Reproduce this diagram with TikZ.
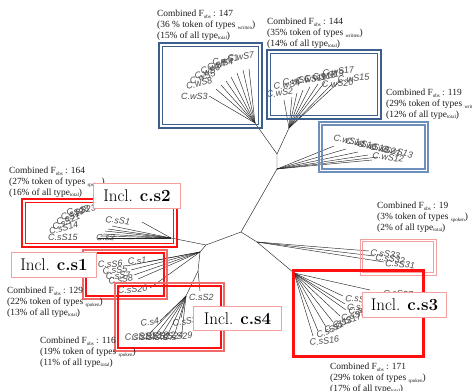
\documentclass[tikz,border=0pt]{standalone}
\usepackage{fontspec}
\newfontfamily\serifT{Liberation Serif}
\newfontfamily\sansA{Liberation Sans}
\definecolor{bluedark}{HTML}{3E5E8E}
\definecolor{bluelight}{HTML}{6E8EBE}
\definecolor{boxred}{HTML}{FF1010}
\definecolor{lightred}{HTML}{F06A6A}
\definecolor{pinkred}{HTML}{F4A0A0}
\definecolor{leafgray}{HTML}{4A4A4A}
\newcommand\subt[1]{\raisebox{-1.6pt}{\fontsize{5}{5}\selectfont #1}}
\begin{document}
\begin{tikzpicture}[x=1pt,y=-1pt,
  branch/.style={draw=black!85,line width=0.45pt},
  leaf/.style={font=\sansA\itshape\fontsize{9}{9}\selectfont,text=leafgray,inner sep=0pt,anchor=base west},
  annot/.style={font=\serifT\fontsize{9.4}{10.7}\selectfont,align=left,anchor=north west,inner sep=0pt,text=black!90},
  incl/.style={draw=pinkred,line width=1pt,fill=white,inner sep=0pt,anchor=north west,font=\fontsize{17}{17}\selectfont},
]
\useasboundingbox (0,0) rectangle (472,391);
\clip (0,0) rectangle (472,391);
% internal nodes of the tree
\coordinate (A) at (241,232);
\coordinate (B) at (277,169);
\coordinate (C) at (277,154);
\coordinate (O1) at (255,123);
\coordinate (O2) at (289,128);
\coordinate (D) at (206,245);
\coordinate (O4) at (171,238);
\coordinate (E) at (200,252);
\coordinate (F) at (198,271);
\coordinate (G) at (186,296);
\coordinate (H) at (257,242);
\coordinate (J) at (294,273);
\draw[branch] (A) -- (B) -- (C) -- (O1);
\draw[branch] (C) -- (O2);
\draw[branch] (A) -- (D) -- (O4);
\draw[branch] (D) -- (E) -- (F) -- (G);
\draw[branch] (A) -- (H) -- (J);
% cluster W1
\foreach \n/\ex/\ey/\lx/\ly/\r/\t in {
  w1/209/96/181/99/0/C.wS3, w2/216/89/187/90/15/C.wS8, w3/221/85/191/85/20/C.wS5,
  w4/226/81/196/80/22/C.wS6, w5/231/77/202/75/22/C.wS9, w6/237/73/208/71/15/C.wS4,
  w7/243/70/213/66/12/C.wS1, w8/249/69/228/62/8/C.wS7}{
  \coordinate (\n) at (\ex,\ey);
  \draw[branch] (O1) -- (\n);
  \node[leaf,rotate=\r] (l\n) at (\lx,\ly) {\t};
}
% cluster W2
\foreach \n/\ex/\ey/\lx/\ly/\r/\t in {
  v1/284/100/267/98/8/C.wS2, v2/292/97/274/90/8/C.wS4, v3/297/93/283/86/8/C.wS6,
  v4/303/90/296/85/10/C.wS11, v5/310/87/305/83/10/C.wS18, v6/318/84/313/81/10/C.wS19,
  v7/325/82/323/77/8/C.wS17, v8/332/84/322/88/5/C.wS20, v9/340/81/338/83/6/C.wS15}{
  \coordinate (\n) at (\ex,\ey);
  \draw[branch] (O2) -- (\n);
  \node[leaf,rotate=\r] (l\n) at (\lx,\ly) {\t};
}
% cluster W3
\foreach \n/\ex/\ey/\lx/\ly/\r/\t in {
  u1/334/146/333/140/-13/C.wS14, u2/346/149/345/143/-13/C.wS16, u3/358/152/357/146/-13/C.wS18,
  u4/368/155/369/149/-13/C.wS21, u5/372/160/372/158/-8/C.wS12, u6/378/157/381/151/-13/C.wS13}{
  \coordinate (\n) at (\ex,\ey);
  \draw[branch] (B) -- (\n);
  \node[leaf,rotate=\r] (l\n) at (\lx,\ly) {\t};
}
% cluster S2
\foreach \n/\ex/\ey/\lx/\ly/\r/\t in {
  a1/142/222/105/222/-8/C.sS1, a2/112/226/67/216/10/C.sS23, a3/108/229/62/221/20/C.sS28,
  a4/105/231/58/226/25/C.sS19, a5/103/234/54/231/25/C.sS21, a6/100/236/50/235/15/C.sS14,
  a7/98/238/48/240/0/C.sS15, a8/123/239/96/240/-3/C.s2}{
  \coordinate (\n) at (\ex,\ey);
  \draw[branch] (O4) -- (\n);
  \node[leaf,rotate=\r] (l\n) at (\lx,\ly) {\t};
}
% cluster S1
\foreach \n/\ex/\ey/\lx/\ly/\r/\t in {
  b1/126/266/98/268/3/C.sS6, b2/147/262/128/265/5/C.s1, b3/131/270/103/275/8/C.sS5,
  b4/134/275/106/280/5/C.sS7, b5/138/279/109/285/10/C.sS8, b6/150/288/118/294/5/C.sS20}{
  \coordinate (\n) at (\ex,\ey);
  \draw[branch] (E) -- (\n);
  \node[leaf,rotate=\r] (l\n) at (\lx,\ly) {\t};
}
\coordinate (c1) at (200,291);
\draw[branch] (F) -- (c1);
\node[leaf] (lc1) at (189,300) {C.sS2};
% cluster S4
\foreach \n/\ex/\ey/\lx/\ly/\r/\t in {
  d1/160/321/141/327/10/C.s4, d2/181/318/173/327/10/C.sS3, d3/150/333/125/341/5/C.sS10,
  d4/156/334/132/341/5/C.sS13, d5/162/334/139/341/5/C.sS18, d6/168/334/146/341/5/C.sS22,
  d7/175/333/154/341/5/C.sS24, d8/182/332/163/341/5/C.sS29}{
  \coordinate (\n) at (\ex,\ey);
  \draw[branch] (G) -- (\n);
  \node[leaf,rotate=\r] (l\n) at (\lx,\ly) {\t};
}
% cluster S3x
\foreach \n/\ex/\ey/\lx/\ly/\r/\t in {
  e1/369/251/370/255/-8/C.sS33, e2/374/256/375/260/-8/C.sS32, e3/384/262/385/266/-5/C.sS31}{
  \coordinate (\n) at (\ex,\ey);
  \draw[branch] (H) -- (\n);
  \node[leaf,rotate=\r] (l\n) at (\lx,\ly) {\t};
}
% cluster S3
\foreach \n/\ex/\ey/\lx/\ly/\r/\t in {
  f1/370/290/383/296/-3/C.sS27, f2/343/296/345/301/-5/C.sS28, f3/345/304/347/310/0/C.sS26,
  f4/346/310/349/315/10/C.sS25, f5/340/316/342/322/15/C.sS9, f6/333/322/334/329/20/C.sS17,
  f7/326/327/326/334/25/C.sS12, f8/318/331/318/339/25/C.sS11, f9/313/336/310/346/8/C.sS16}{
  \coordinate (\n) at (\ex,\ey);
  \draw[branch] (J) -- (\n);
  \node[leaf,rotate=\r] (l\n) at (\lx,\ly) {\t};
}
% blue boxes
\draw[bluedark,line width=1.8pt] (159,43) rectangle (262,128);
\draw[bluedark,line width=1.3pt] (162.5,46.5) rectangle (258.5,124.5);
\draw[bluedark,line width=1.8pt] (267,50) rectangle (381,119);
\draw[bluedark,line width=1.3pt] (270.5,53.5) rectangle (377.5,115.5);
\draw[bluelight,line width=1.5pt] (319,122) rectangle (428,172);
\draw[bluelight,line width=1.1pt] (322,125) rectangle (425,169);
% red boxes
\draw[boxred,line width=2pt] (22,199) rectangle (177,247);
\draw[boxred,line width=1.5pt] (25.5,202.5) rectangle (173.5,243.5);
\draw[lightred,line width=1.2pt] (83,250) rectangle (167,299);
\draw[boxred,line width=1.3pt] (86,253) rectangle (164,296);
\draw[lightred,line width=1.2pt] (115,283) rectangle (224,351);
\draw[boxred,line width=1.2pt] (118,286) rectangle (221,348);
\draw[pinkred,line width=1pt] (360,239) rectangle (436,275);
\draw[pinkred,line width=0.8pt] (362.5,241.5) rectangle (433.5,272.5);
\draw[boxred,line width=3pt] (293,270) rectangle (423,356);
% annotations
\node[annot] (t1) at (157,10) {Combined F\subt{obs} : 147\\(36 \% token of types \subt{written})\\(15\% of all type\subt{total})};
\node[annot] (t2) at (267,18) {Combined F\subt{obs} : 144\\(35\% token of types \subt{written})\\(14\% of all type\subt{total})};
\node[annot] (t3) at (386,89) {Combined F\subt{obs} : 119\\(29\% token of types \subt{written})\\(12\% of all type\subt{total})};
\node[annot] (t4) at (9,167) {Combined F\subt{obs} : 164\\(27\% token of types \subt{spoken})\\(16\% of all type\subt{total})};
\node[annot] (t5) at (7,287) {Combined F\subt{obs} : 129\\(22\% token of types \subt{spoken})\\(13\% of all type\subt{total})};
\node[annot] (t6) at (40,337) {Combined F\subt{obs} : 116\\(19\% token of types \subt{spoken})\\(11\% of all type\subt{total})};
\node[annot] (t7) at (377,202) {Combined F\subt{obs} : 19\\(3\% token of types \subt{spoken})\\(2\% of all type\subt{total})};
\node[annot] (t8) at (330,363) {Combined F\subt{obs} : 171\\(29\% token of types \subt{spoken})\\(17\% of all type\subt{total})};
% inclusion labels
\node[incl,minimum width=87pt,minimum height=25pt] (i2) at (93,183) {Incl. \textbf{c.s\oldstylenums{2}}};
\node[incl,minimum width=85pt,minimum height=25pt] (i1) at (11,252) {Incl. \textbf{c.s\oldstylenums{1}}};
\node[incl,minimum width=88pt,minimum height=24pt] (i4) at (193,306) {Incl. \textbf{c.s\oldstylenums{4}}};
\node[incl,minimum width=84pt,minimum height=25pt] (i3) at (362,292) {Incl. \textbf{c.s\oldstylenums{3}}};
\end{tikzpicture}
\end{document}
